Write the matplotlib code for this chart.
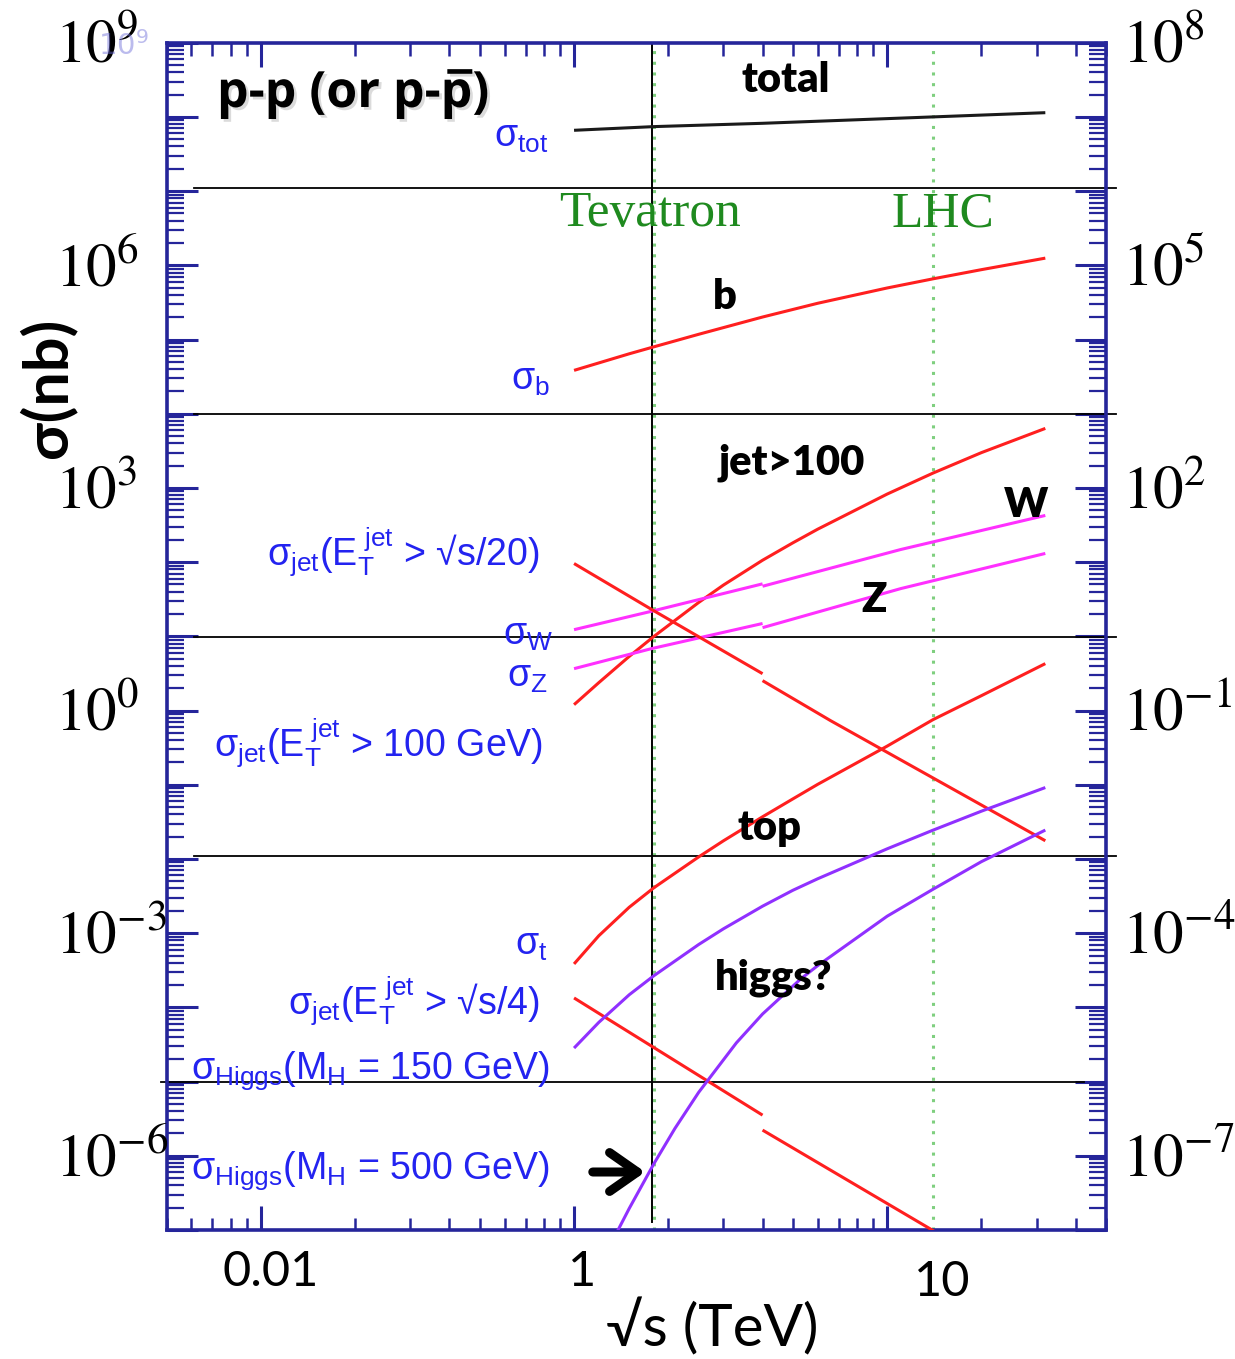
import numpy as np
import matplotlib
matplotlib.use("Agg")
import matplotlib.pyplot as plt
import matplotlib.patheffects as pe
from matplotlib.ticker import LogLocator, NullFormatter

# ---------------- data (sqrt(s) in TeV, sigma in nb) ----------------
sqrt_s_total = [1.0, 1.8, 4.0, 14.0, 32.0]
sigma_total = [6.6e7, 7.4e7, 8.2e7, 1.0e8, 1.14e8]

sqrt_s_b = [1.0, 1.5, 1.8, 2.5, 4.0, 6.0, 10.0, 14.0, 20.0, 32.0]
sigma_b = [3.84e4, 6.42e4, 7.98e4, 1.176e5, 2.01e5, 3.08e5, 4.95e5, 6.57e5, 8.74e5, 1.25e6]

sqrt_s_grid = [1.0, 1.2, 1.5, 1.8, 2.5, 3.0, 4.0, 5.0, 6.0, 10.0, 14.0, 20.0, 32.0]

sigma_jet100 = [1.20, 2.38, 5.36, 10.0, 28.6, 49.1, 106.1, 182.2, 278.0, 826.7, 1583.0, 2991.0, 6342.0]

sigma_top = [3.85e-4, 9.24e-4, 2.233e-3, 4.103e-3, 0.01065, 0.01757, 0.03702, 0.06453, 0.1013,
             0.3316, 0.753, 1.587, 4.29]

sigma_h150 = [2.83e-5, 6.29e-5, 1.478e-4, 2.676e-4, 7.03e-4, 1.145e-3, 2.310e-3, 3.786e-3, 5.41e-3,
              0.0137, 0.02441, 0.04405, 0.0917]

sqrt_s_h500 = [1.376, 1.5, 1.8, 2.1, 2.5, 3.3, 4.0, 5.3, 6.0, 10.0, 14.0, 20.0, 32.0]
sigma_h500 = [9.64e-8, 1.948e-7, 7.86e-7, 2.339e-6, 7.155e-6, 3.329e-5, 8.14e-5, 2.423e-4, 3.652e-4,
              1.693e-3, 3.9e-3, 9.2e-3, 0.0245]

sqrt_s_W_ppbar = [1.0, 1.77, 4.0]
sigma_W_ppbar = [12.3, 21.8, 51.0]
sqrt_s_W_pp = [4.0, 11.05, 32.0]
sigma_W_pp = [47.3, 148.0, 426.0]

sqrt_s_Z_ppbar = [1.0, 1.77, 4.0]
sigma_Z_ppbar = [3.67, 6.84, 14.9]
sqrt_s_Z_pp = [4.0, 11.05, 32.0]
sigma_Z_pp = [13.1, 44.0, 131.0]

sqrt_s_jet20_ppbar = [1.0, 1.77, 4.0]
sigma_jet20_ppbar = [95.8, 23.0, 3.14]
sqrt_s_jet20_pp = [4.0, 6.6, 32.0]
sigma_jet20_pp = [2.53, 0.73, 0.0176]

sqrt_s_jet4_ppbar = [1.0, 4.0]
sigma_jet4_ppbar = [1.34e-4, 3.53e-6]
sqrt_s_jet4_pp = [4.0, 14.15]
sigma_jet4_pp = [2.22e-6, 9.6e-8]

hline_levels = [1.09e7, 9.8e3, 9.8, 1.1e-2, 1.0e-5]
hline_x_from = [0.061, 0.061, 0.061, 0.061, 0.048]
hline_x_to = [54.0, 54.0, 54.0, 54.0, 42.5]

tevatron_energy = 1.8
tevatron_marker = 1.77
lhc_energy = 14.0

left_exponents = ["9", "6", "3", "0", "-3", "-6"]
right_exponents = ["8", "5", "2", "-1", "-4", "-7"]
tick_decades = [1e9, 1e6, 1e3, 1e0, 1e-3, 1e-6]

xtick_labels = ["0.01", "1", "10"]

# ---------------- style ----------------
plt.rcParams.update({
    "mathtext.fontset": "custom",
    "mathtext.rm": "Liberation Sans",
    "mathtext.it": "Liberation Sans",
    "mathtext.sf": "Liberation Sans",
    "mathtext.bf": "Liberation Sans:bold",
    "mathtext.default": "regular",
})

W_PX, H_PX = 1235, 1359
fig = plt.figure(figsize=(W_PX / 100, H_PX / 100), dpi=100)

L, R, T, B = 166.7, 1106.0, 42.7, 1230.0
ax = fig.add_axes([L / W_PX, 1 - B / H_PX, (R - L) / W_PX, (B - T) / H_PX])


def fxy(px, py):
    return px / W_PX, 1 - py / H_PX


navy = "#25259a"
ax.set_xscale("log")
ax.set_yscale("log")
ax.set_xlim(0.05, 50)
ax.set_ylim(1e-7, 1e9)

ax.xaxis.set_major_locator(LogLocator(base=10, numticks=30))
ax.xaxis.set_minor_locator(LogLocator(base=10, subs=np.arange(2, 10), numticks=30))
ax.yaxis.set_major_locator(LogLocator(base=10, numticks=30))
ax.yaxis.set_minor_locator(LogLocator(base=10, subs=np.arange(2, 10), numticks=30))
ax.xaxis.set_minor_formatter(NullFormatter())
ax.yaxis.set_minor_formatter(NullFormatter())
ax.tick_params(which="both", direction="in", top=True, right=True, color=navy,
               labelleft=False, labelbottom=False)
ax.tick_params(axis="y", which="major", length=22, width=2.2)
ax.tick_params(axis="y", which="minor", length=12, width=1.6)
ax.tick_params(axis="x", which="major", length=17, width=2.2)
ax.tick_params(axis="x", which="minor", length=9, width=1.8)
for s in ax.spines.values():
    s.set_color(navy)
    s.set_linewidth(2.6)

# reference lines
for lev, x0, x1 in zip(hline_levels, hline_x_from, hline_x_to):
    ax.plot([x0, x1], [lev, lev], color="black", lw=1.3, clip_on=False, zorder=2)

ax.axvline(tevatron_energy, color="#7fcf7f", lw=2.2, ls=(0, (1, 2.5)), zorder=1)
ax.axvline(lhc_energy, color="#7fcf7f", lw=2.2, ls=(0, (1, 2.5)), zorder=1)
ax.plot([tevatron_marker, tevatron_marker], [1.3e-7, 1e9], color="black", lw=1.4, zorder=2)

red, mag, purp = "#ff1f1f", "#ff30ff", "#9030ff"
curves = [
    (sqrt_s_total, sigma_total, "#1a1a1a"),
    (sqrt_s_b, sigma_b, red),
    (sqrt_s_grid, sigma_jet100, red),
    (sqrt_s_W_ppbar, sigma_W_ppbar, mag),
    (sqrt_s_W_pp, sigma_W_pp, mag),
    (sqrt_s_Z_ppbar, sigma_Z_ppbar, mag),
    (sqrt_s_Z_pp, sigma_Z_pp, mag),
    (sqrt_s_jet20_ppbar, sigma_jet20_ppbar, red),
    (sqrt_s_jet20_pp, sigma_jet20_pp, red),
    (sqrt_s_jet4_ppbar, sigma_jet4_ppbar, red),
    (sqrt_s_jet4_pp, sigma_jet4_pp, red),
    (sqrt_s_grid, sigma_top, red),
    (sqrt_s_grid, sigma_h150, purp),
    (sqrt_s_h500, sigma_h500, purp),
]
for xs, ys, c in curves:
    ax.plot(xs, ys, color=c, lw=2.2, zorder=3, solid_capstyle="butt", solid_joinstyle="round")

# ---------------- y tick labels (both sides) ----------------
for e, yv in zip(left_exponents, tick_decades):
    ax.annotate(r"$\mathrm{10}^{\mathrm{%s}}$" % e, xy=(0, yv), xycoords=("axes fraction", "data"),
                xytext=(55 - L, -20), textcoords="offset pixels", ha="left", va="baseline",
                fontsize=44, math_fontfamily="stix", color="black", annotation_clip=False)
for e, yv in zip(right_exponents, tick_decades):
    ax.annotate(r"$\mathrm{10}^{\mathrm{%s}}$" % e, xy=(1, yv), xycoords=("axes fraction", "data"),
                xytext=(16, -20), textcoords="offset pixels", ha="left", va="baseline",
                fontsize=44, math_fontfamily="stix", color="black", annotation_clip=False)

# faint remnant of the original top label
fig.text(*fxy(98, 55), r"$10^9$", ha="left", va="baseline", fontsize=21,
         color="#6a6ad8", alpha=0.45, zorder=0)

# x tick labels (placed as in the picture)
xtick_pos = [(271, 1272), (582, 1272), (942, 1282)]
for lab, (px, py) in zip(xtick_labels, xtick_pos):
    fig.text(*fxy(px, py), lab, ha="center", va="center", fontsize=35,
             family=["Lato", "DejaVu Sans"], color="black")

# axis labels
fig.text(*fxy(712, 1327), "√s (TeV)", ha="center", va="center", fontsize=42,
         family=["Lato", "DejaVu Sans"], color="black")
fig.text(*fxy(47, 388), "σ(nb)", ha="center", va="center", fontsize=44, rotation=90,
         family=["Lato", "DejaVu Sans"], weight="bold", color="black")

# collider labels
fig.text(*fxy(650, 214), "Tevatron", ha="center", va="center", fontsize=37,
         family=["Liberation Serif"], color="#1f8a1f")
fig.text(*fxy(943, 214), "LHC", ha="center", va="center", fontsize=37,
         family=["Liberation Serif"], color="#1f8a1f")

# title-like label with shadow
fig.text(*fxy(217, 94), "p-p (or p-p\u0305)", ha="left", va="center", fontsize=36,
         family=["Open Sans", "DejaVu Sans"], weight="bold", color="black",
         path_effects=[pe.withSimplePatchShadow(offset=(2, -2), shadow_rgbFace="#999999", alpha=0.35)])

# black curve names
black_labels = [("total", 786, 80), ("b", 725, 297), ("jet>100", 792, 463), ("W", 1026, 505),
                ("Z", 874, 600), ("top", 769, 828), ("higgs?", 774, 978)]
for txt, px, py in black_labels:
    fig.text(*fxy(px, py), txt, ha="center", va="center", fontsize=30,
             family=["Lato", "DejaVu Sans"], weight="heavy", color="black")

# blue curve labels
blue = "#2323f0"
blue_labels = [
    (r"$\sigma_{tot}$", 548, 137),
    (r"$\sigma_{b}$", 550, 380),
    (r"$\sigma_{jet}(E_T^{\ jet}$ > √s/20)", 540, 552),
    (r"$\sigma_{W}$", 553, 635),
    (r"$\sigma_{Z}$", 548, 677),
    (r"$\sigma_{jet}(E_T^{\ jet}$ > 100 GeV)", 543, 743),
    (r"$\sigma_{t}$", 548, 945),
    (r"$\sigma_{jet}(E_T^{\ jet}$ > √s/4)", 540, 1001),
    (r"$\sigma_{Higgs}(M_H$ = 150 GeV)", 550, 1071),
    (r"$\sigma_{Higgs}(M_H$ = 500 GeV)", 550, 1171),
]
for txt, px, py in blue_labels:
    fig.text(*fxy(px, py), txt, ha="right", va="center", fontsize=27,
             family=["Liberation Sans", "DejaVu Sans"], color=blue)

# arrow to Higgs 500 curve at Tevatron
ax.annotate("", xy=fxy(648, 1172), xycoords="figure fraction",
            xytext=fxy(590, 1172), textcoords="figure fraction",
            arrowprops=dict(arrowstyle="->,head_length=0.5,head_width=0.35",
                            lw=6.5, color="black", mutation_scale=40))

fig.savefig("out.png", dpi=100)
